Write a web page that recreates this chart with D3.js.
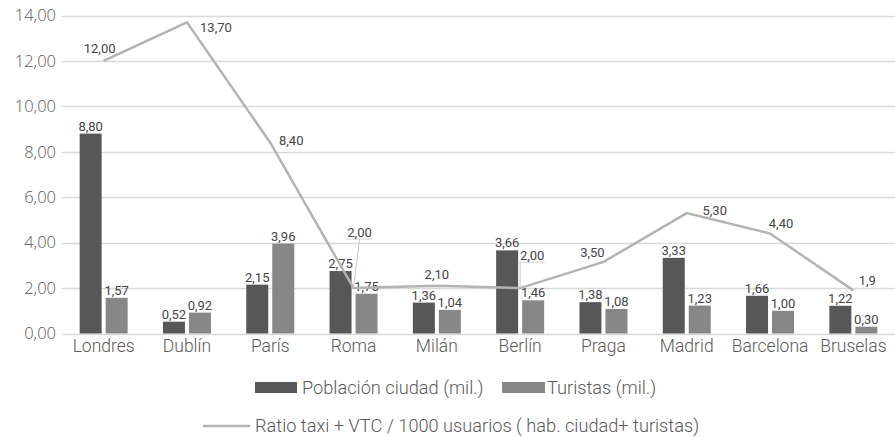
<!DOCTYPE html>
<html><head><meta charset="utf-8">
<script src="https://cdn.jsdelivr.net/npm/d3@7"></script>
<style>
body{margin:0;background:#fff;}
svg{display:block;font-family:Roboto,"Liberation Sans",Arial,sans-serif;}
</style></head>
<body>
<svg id="c" width="895" height="437"></svg>
<script>
const categories = ["Londres","Dublín","París","Roma","Milán","Berlín","Praga","Madrid","Barcelona","Bruselas"];
const poblacion = [8.80,0.52,2.15,2.75,1.36,3.66,1.38,3.33,1.66,1.22];
const turistas = [1.57,0.92,3.96,1.75,1.04,1.46,1.08,1.23,1.00,0.30];
const ratio = [12.00,13.70,8.40,2.00,2.10,2.00,3.15,5.30,4.40,1.90];
const ratioLabels = ["12,00","13,70","8,40","2,00","2,10","2,00","3,50","5,30","4,40","1,9"];
const yTicks = [0,2,4,6,8,10,12,14];
const seriesNames = ["Población ciudad (mil.)","Turistas (mil.)","Ratio taxi + VTC / 1000 usuarios ( hab. ciudad+ turistas)"];

const fmt = v => v.toFixed(2).replace(".", ",");
const svg = d3.select("#c");
const x = d3.scaleBand().domain(categories).range([62, 895]);
const y = d3.scaleLinear().domain([0, 14]).range([333.5, 15.5]);
const cx = c => x(c) + x.bandwidth()/2;
const darkC = "#575757", lightC = "#878787", lineC = "#b3b3b3";

// grid
svg.append("g").selectAll("line").data(yTicks).join("line")
  .attr("x1", 62).attr("x2", 895)
  .attr("y1", d => Math.round(y(d))+0.5).attr("y2", d => Math.round(y(d))+0.5)
  .attr("stroke", "#d9d9d9").attr("stroke-width", 1.3);

// y axis labels
const yAxis = svg.append("g").attr("transform","translate(56,0)")
  .call(d3.axisLeft(y).tickValues(yTicks).tickFormat(fmt).tickSize(0).tickPadding(0));
yAxis.select(".domain").remove();
yAxis.selectAll("text").style("font-size", "16.5px").style("fill", "#595959")
  .style("font-family","'Open Sans', sans-serif").style("font-weight", 300);

// x axis labels
const xAxis = svg.append("g").attr("transform","translate(0,340)")
  .call(d3.axisBottom(x).tickSize(0).tickPadding(0));
xAxis.select(".domain").remove();
xAxis.selectAll("text").style("font-size", "17.5px").style("fill", "#595959").attr("dy","0.71em")
  .style("font-family","Roboto, sans-serif").style("font-weight", 300);

const bw = 22, gap = 4;
const bars = [{vals: poblacion, color: darkC, off: -(gap/2 + bw)}, {vals: turistas, color: lightC, off: gap/2}];
bars.forEach(s => {
  const g = svg.append("g");
  g.selectAll("rect").data(categories).join("rect")
    .attr("x", (c) => cx(c) + s.off)
    .attr("width", bw)
    .attr("y", (c,i) => y(s.vals[i]))
    .attr("height", (c,i) => y(0) - y(s.vals[i]))
    .attr("fill", s.color);
  g.selectAll("text").data(categories).join("text")
    .attr("x", (c) => cx(c) + s.off + bw/2)
    .attr("y", (c,i) => y(s.vals[i]) - 3)
    .attr("text-anchor","middle").style("font-size", "13px").style("fill","#454545")
    .text((c,i) => fmt(s.vals[i]));
});

// line
const line = d3.line().x((d,i) => cx(categories[i])).y(d => y(d));
svg.append("path").datum(ratio).attr("d", line).attr("fill","none")
  .attr("stroke", lineC).attr("stroke-width", 2.5).attr("stroke-linejoin","miter");

// line labels layout (offsets from point)
const lblOff = [[-4,-12],[29,5],[21,-2],[6,-56],[0,-11],[12,-33],[-11,-10],[28,-3],[11,-10],[14,-10]];
const callouts = {3: true, 5: true};
const lg = svg.append("g");
ratio.forEach((v,i) => {
  const px = cx(categories[i]), py = y(v);
  const tx = px + lblOff[i][0], ty = py + lblOff[i][1];
  if (callouts[i]) {
    const uy = ty + 7;
    lg.append("line").attr("x1", tx-13).attr("x2", tx+13).attr("y1", uy).attr("y2", uy)
      .attr("stroke","#d0d0d0").attr("stroke-width",1);
    const lx = i === 3 ? tx : tx - 12;
    lg.append("line").attr("x1", lx).attr("x2", px).attr("y1", uy).attr("y2", py)
      .attr("stroke","#c8c8c8").attr("stroke-width",1);
  }
  lg.append("text").attr("x", tx).attr("y", ty).attr("dy","0.35em")
    .attr("text-anchor","middle").style("font-size","13px").style("fill","#454545")
    .text(ratioLabels[i]);
});

// legend
const leg = svg.append("g").style("font-size", "18.2px").style("fill","#595959")
  .style("font-family","Roboto, sans-serif").style("font-weight", 300);
leg.append("rect").attr("x",255).attr("y",382).attr("width",42).attr("height",11).attr("fill",darkC);
leg.append("text").attr("x",302).attr("y",388).attr("dy","0.35em").text(seriesNames[0]);
leg.append("rect").attr("x",502).attr("y",382).attr("width",43).attr("height",11).attr("fill",lightC);
leg.append("text").attr("x",547).attr("y",388).attr("dy","0.35em").text(seriesNames[1]);
leg.append("line").attr("x1",203).attr("x2",250).attr("y1",426).attr("y2",426).attr("stroke",lineC).attr("stroke-width",2.5);
leg.append("text").attr("x",255).attr("y",426).attr("dy","0.35em").text(seriesNames[2]);
</script>
</body></html>
